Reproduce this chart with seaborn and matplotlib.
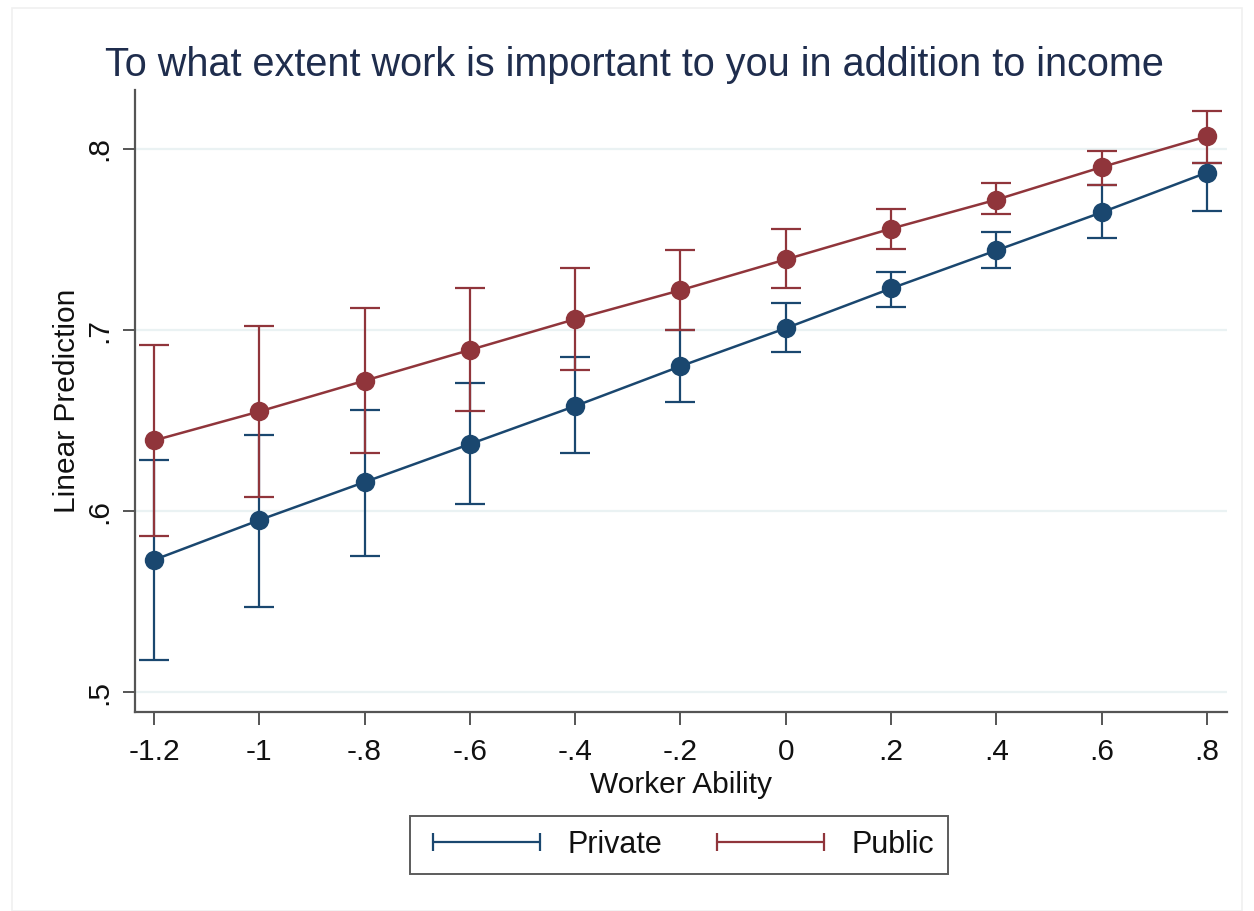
import matplotlib
matplotlib.use("Agg")
import matplotlib.pyplot as plt
from matplotlib.lines import Line2D
from matplotlib.patches import Rectangle
import seaborn as sns
import pandas as pd

# Predicted values with 95% confidence bounds, by worker ability
ability = [-1.2, -1.0, -0.8, -0.6, -0.4, -0.2, 0.0, 0.2, 0.4, 0.6, 0.8]

private_fit = [0.573, 0.595, 0.616, 0.637, 0.658, 0.680, 0.701, 0.723, 0.744, 0.765, 0.787]
private_lo = [0.518, 0.547, 0.575, 0.604, 0.632, 0.660, 0.688, 0.713, 0.734, 0.751, 0.766]
private_hi = [0.628, 0.642, 0.656, 0.671, 0.685, 0.700, 0.715, 0.732, 0.754, 0.780, 0.792]

public_fit = [0.639, 0.655, 0.672, 0.689, 0.706, 0.722, 0.739, 0.756, 0.772, 0.790, 0.807]
public_lo = [0.586, 0.608, 0.632, 0.655, 0.678, 0.700, 0.723, 0.745, 0.764, 0.780, 0.792]
public_hi = [0.692, 0.702, 0.712, 0.723, 0.734, 0.744, 0.756, 0.767, 0.781, 0.799, 0.821]

sectors = ["Private", "Public"]
sector_colors = {"Private": "#1a476f", "Public": "#90353b"}

x_ticks = [-1.2, -1.0, -0.8, -0.6, -0.4, -0.2, 0.0, 0.2, 0.4, 0.6, 0.8]
x_ticklabels = ["-1.2", "-1", "-.8", "-.6", "-.4", "-.2", "0", ".2", ".4", ".6", ".8"]
y_ticks = [0.5, 0.6, 0.7, 0.8]
y_ticklabels = [".5", ".6", ".7", ".8"]

df = pd.concat([
    pd.DataFrame({"ability": ability, "fit": private_fit, "lo": private_lo,
                  "hi": private_hi, "sector": "Private"}),
    pd.DataFrame({"ability": ability, "fit": public_fit, "lo": public_lo,
                  "hi": public_hi, "sector": "Public"}),
])

sns.set_theme(style="white")
plt.rcParams["font.family"] = ["Liberation Sans", "DejaVu Sans"]

fig = plt.figure(figsize=(12.54, 9.11), dpi=100)
fig.patch.set_facecolor("white")
ax = fig.add_axes([135 / 1254, 1 - 712 / 911, (1227 - 135) / 1254, (712 - 90) / 911])

# faint outer graph-region border
fig.patches.append(Rectangle((12 / 1254, 0.0), 1 - 24 / 1254, 1 - 8 / 911,
                             transform=fig.transFigure, fill=False,
                             edgecolor="#f0f0f0", linewidth=1.2, zorder=0))

# confidence interval caps first, so all markers sit on top
for s in sectors:
    d = df[df["sector"] == s]
    ax.errorbar(d["ability"], d["fit"],
                yerr=[d["fit"] - d["lo"], d["hi"] - d["fit"]],
                fmt="none", ecolor=sector_colors[s], elinewidth=1.6,
                capsize=11, capthick=1.6, zorder=2)

sns.lineplot(data=df, x="ability", y="fit", hue="sector", palette=sector_colors,
             marker="o", markersize=14, markeredgewidth=0, linewidth=1.8,
             legend=False, ax=ax, zorder=3)

ax.set_xlim(-1.236, 0.838)
ax.set_ylim(0.489, 0.8326)
ax.set_xticks(x_ticks)
ax.set_xticklabels(x_ticklabels, fontsize=21.5)
ax.set_yticks(y_ticks)
ax.set_yticklabels(y_ticklabels, fontsize=21.5, rotation=90, va="center")

ax.grid(axis="y", color="#eaf2f3", linewidth=1.6, zorder=0)
ax.set_axisbelow(True)
for side in ["top", "right"]:
    ax.spines[side].set_visible(False)
for side in ["left", "bottom"]:
    ax.spines[side].set_color("#555555")
    ax.spines[side].set_linewidth(1.6)
ax.tick_params(axis="x", which="major", direction="out", length=9, width=1.4,
               color="#555555", labelcolor="#111111", pad=10, bottom=True)
ax.tick_params(axis="y", which="major", direction="out", length=9, width=1.4,
               color="#555555", labelcolor="#111111", pad=7, left=True)

ax.set_xlabel("Worker Ability", fontsize=21.5, color="#111111", labelpad=3)
ax.set_ylabel("Linear Prediction", fontsize=21.5, color="#111111", labelpad=3)

fig.text(0.506, 1 - 65 / 911, "To what extent work is important to you in addition to income",
         ha="center", va="center", fontsize=28.5, color="#1f2d4d")

handles = [Line2D([0, 1], [0, 0], color=sector_colors[s], linewidth=1.6,
                  marker="|", markersize=13, markeredgewidth=1.6) for s in sectors]
leg = fig.legend(handles, sectors, loc="center", bbox_to_anchor=(679 / 1254, 1 - 845 / 911),
                 ncol=2, fontsize=22, frameon=True, fancybox=False, numpoints=2,
                 handlelength=4.1, handletextpad=0.6, columnspacing=1.5,
                 borderpad=0.45, borderaxespad=0.2)
leg.get_frame().set_edgecolor("#333333")
leg.get_frame().set_linewidth(1.4)
for t in leg.get_texts():
    t.set_color("#111111")

fig.savefig("out.png", dpi=100)
